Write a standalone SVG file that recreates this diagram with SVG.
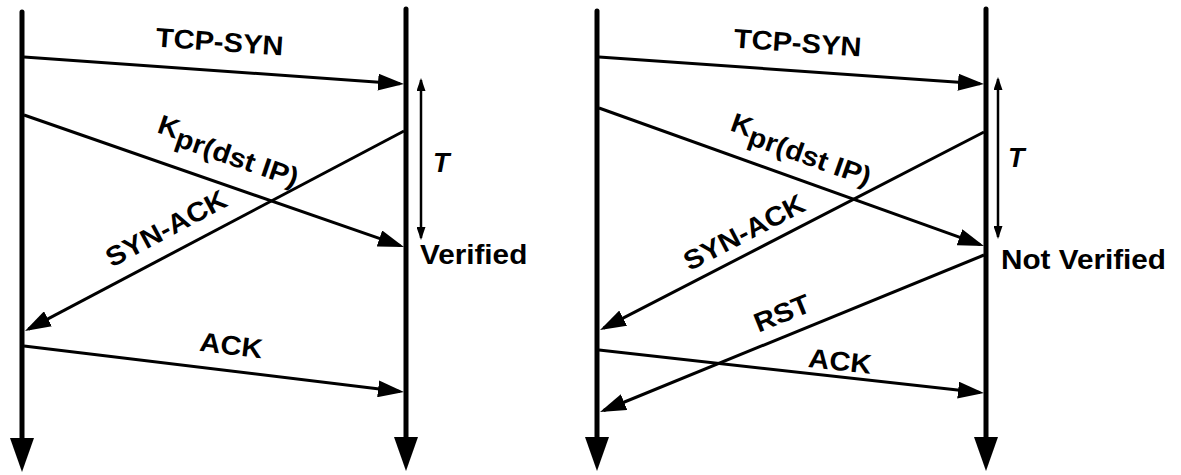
<svg xmlns="http://www.w3.org/2000/svg" width="1181" height="475" viewBox="0 0 1181 475">
<style>
.tl{stroke:#000;stroke-width:5;fill:none;stroke-linecap:round}
.msg{stroke:#000;stroke-width:3;fill:none}
.tarr{stroke:#000;stroke-width:2.5;fill:none}
text{font-family:"Liberation Sans",Arial,sans-serif;font-weight:bold;font-size:27px;fill:#000}
.it{font-style:italic}
</style>
<defs>
<marker id="ah" markerUnits="userSpaceOnUse" markerWidth="26" markerHeight="17" refX="22" refY="8.5" orient="auto"><path d="M0,0 L26,8.5 L0,17 z" fill="#000"/></marker>
<marker id="big" markerUnits="userSpaceOnUse" markerWidth="34" markerHeight="24" refX="4" refY="12" orient="auto"><path d="M0,0 L34,12 L0,24 z" fill="#000"/></marker>
<marker id="sm" markerUnits="userSpaceOnUse" markerWidth="13" markerHeight="9" refX="11" refY="4.5" orient="auto-start-reverse"><path d="M0,0 L13,4.5 L0,9 z" fill="#000"/></marker>
</defs>
<g id="timelines">
<line id="left-client" class="tl" x1="22" y1="12" x2="22" y2="442" marker-end="url(#big)"/>
<line id="left-server" class="tl" x1="406" y1="9" x2="406" y2="441" marker-end="url(#big)"/>
<line id="right-client" class="tl" x1="597" y1="11" x2="597" y2="441" marker-end="url(#big)"/>
<line id="right-server" class="tl" x1="986" y1="9" x2="986" y2="441" marker-end="url(#big)"/>
</g>
<g id="connectors">
<line class="msg" x1="24" y1="57" x2="400" y2="83.7" marker-end="url(#ah)"/>
<line class="msg" x1="24" y1="115" x2="400.2" y2="245.7" marker-end="url(#ah)"/>
<line class="msg" x1="404" y1="131" x2="28.5" y2="329.1" marker-end="url(#ah)"/>
<line class="msg" x1="24" y1="346" x2="400" y2="391.5" marker-end="url(#ah)"/>
<line class="tarr" x1="421" y1="80" x2="421" y2="238" marker-start="url(#sm)" marker-end="url(#sm)"/>
<line class="msg" x1="599" y1="57" x2="980" y2="83.7" marker-end="url(#ah)"/>
<line class="msg" x1="599" y1="108" x2="980.2" y2="244.7" marker-end="url(#ah)"/>
<line class="msg" x1="984" y1="132" x2="603.6" y2="328.2" marker-end="url(#ah)"/>
<line class="msg" x1="984" y1="255" x2="603.7" y2="410.5" marker-end="url(#ah)"/>
<line class="msg" x1="599" y1="350" x2="980" y2="392.6" marker-end="url(#ah)"/>
<line class="tarr" x1="998" y1="79" x2="998" y2="237" marker-start="url(#sm)" marker-end="url(#sm)"/>
</g>
<g id="left-labels">
<text transform="translate(219,51) rotate(4) scale(1.08,1)" text-anchor="middle">TCP-SYN</text>
<text transform="translate(156,132) rotate(19) scale(1.08,1)">K<tspan dy="7">pr(dst IP)</tspan></text>
<text transform="translate(170.5,236.5) rotate(-28) scale(1.08,1)" text-anchor="middle">SYN-ACK</text>
<text transform="translate(230,354.5) rotate(7) scale(1.08,1)" text-anchor="middle">ACK</text>
<text class="it" x="433" y="172">T</text>
<text transform="translate(420,264) scale(1.1,1)">Verified</text>
</g>
<g id="right-labels">
<text transform="translate(797,52) rotate(4) scale(1.08,1)" text-anchor="middle">TCP-SYN</text>
<text transform="translate(729,130) rotate(19.5) scale(1.08,1)">K<tspan dy="7">pr(dst IP)</tspan></text>
<text transform="translate(748.4,240.5) rotate(-27.5) scale(1.08,1)" text-anchor="middle">SYN-ACK</text>
<text transform="translate(785.6,321.8) rotate(-22) scale(1.08,1)" text-anchor="middle">RST</text>
<text transform="translate(839,370.4) rotate(6.4) scale(1.08,1)" text-anchor="middle">ACK</text>
<text class="it" x="1008" y="167">T</text>
<text transform="translate(1001,269) scale(1.1,1)">Not Verified</text>
</g>
</svg>
